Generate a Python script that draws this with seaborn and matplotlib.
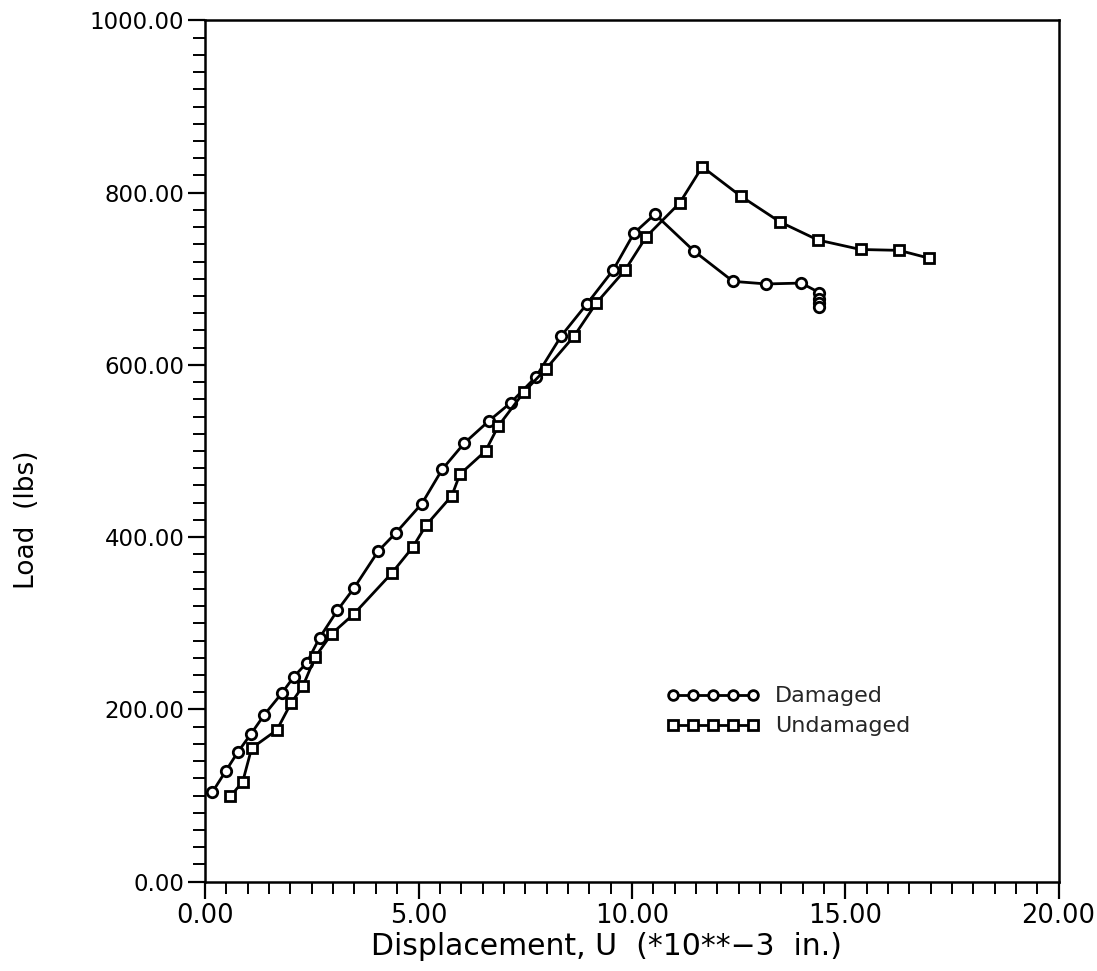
import matplotlib
matplotlib.use("Agg")
import matplotlib.pyplot as plt
import matplotlib.ticker as mticker
import seaborn as sns
import pandas as pd

# Damaged specimen (circles)
damaged_u = [0.17, 0.49, 0.76, 1.08, 1.39, 1.80, 2.08, 2.38, 2.68, 3.10, 3.49, 4.06,
             4.47, 5.08, 5.56, 6.07, 6.65, 7.16, 7.75, 8.35, 8.95, 9.56, 10.05, 10.54,
             11.46, 12.37, 13.15, 13.97, 14.39, 14.39, 14.39, 14.39]
damaged_load = [104, 129, 150, 172, 194, 219, 238, 254, 283, 315, 341, 384,
                405, 439, 479, 509, 535, 556, 586, 634, 671, 710, 753, 775,
                732, 697, 694, 695, 684, 677, 672, 667]

# Undamaged specimen (squares)
undamaged_u = [0.59, 0.88, 1.09, 1.68, 2.01, 2.29, 2.58, 2.97, 3.49, 4.37, 4.86, 5.18,
               5.78, 5.97, 6.57, 6.87, 7.48, 7.98, 8.64, 9.17, 9.84, 10.34, 11.12,
               11.65, 12.55, 13.47, 14.36, 15.36, 16.26, 16.96]
undamaged_load = [99, 116, 155, 176, 207, 227, 261, 288, 311, 358, 388, 414,
                  448, 473, 500, 529, 569, 595, 633, 672, 710, 749, 788,
                  830, 796, 766, 745, 734, 733, 724]

series_names = ["Damaged", "Undamaged"]
x_label = "Displacement, U  (*10**\u22123  in.)"
y_label = "Load  (lbs)"

sns.set_theme(style="ticks")
plt.rcParams["font.family"] = ["DejaVu Sans"]

fig = plt.figure(figsize=(10.97, 9.71), dpi=100)
ax = fig.add_axes([0.187, 0.092, 0.778, 0.887])

df_d = pd.DataFrame({"u": damaged_u, "load": damaged_load})
df_u = pd.DataFrame({"u": undamaged_u, "load": undamaged_load})

common = dict(color="black", linewidth=2.0, markersize=7.5, markeredgewidth=2.0,
              markeredgecolor="black", markerfacecolor="white",
              estimator=None, sort=False, legend=False)
sns.lineplot(data=df_d, x="u", y="load", marker="o", ax=ax, **common)
sns.lineplot(data=df_u, x="u", y="load", marker="s", ax=ax, **common)

ax.set_xlim(0, 20)
ax.set_ylim(0, 1000)
ax.xaxis.set_major_locator(mticker.MultipleLocator(5))
ax.xaxis.set_minor_locator(mticker.MultipleLocator(0.5))
ax.yaxis.set_major_locator(mticker.MultipleLocator(200))
ax.yaxis.set_minor_locator(mticker.MultipleLocator(20))
ax.xaxis.set_major_formatter(mticker.FormatStrFormatter("%.2f"))
ax.yaxis.set_major_formatter(mticker.FormatStrFormatter("%.2f"))

ax.tick_params(axis="both", which="major", direction="out", length=12, width=1.6,
               color="black", labelcolor="black")
ax.tick_params(axis="x", which="major", labelsize=18.5, pad=3)
ax.tick_params(axis="y", which="major", labelsize=16.5, pad=3)
ax.tick_params(axis="both", which="minor", direction="out", length=8.5, width=1.4,
               color="black")
ax.tick_params(top=False, right=False, which="both")
for s in ax.spines.values():
    s.set_visible(True)
    s.set_color("black")
    s.set_linewidth(1.8)

ax.set_xlabel(x_label, fontsize=21.5, color="black")
ax.set_ylabel(y_label, fontsize=19, color="black")
ax.xaxis.set_label_coords(0.47, -0.058)
ax.yaxis.set_label_coords(-0.193, 0.42)
ax.grid(False)

handles = ax.get_lines()[:2]
leg = ax.legend(handles, series_names, loc="upper left", bbox_to_anchor=(0.53, 0.237),
                frameon=False, numpoints=5, handlelength=4.2, handletextpad=0.7,
                labelspacing=0.45, fontsize=16, borderaxespad=0)
for h in leg.legend_handles:
    h.set_markersize(7)

fig.savefig("out.png", dpi=100, facecolor="white")
